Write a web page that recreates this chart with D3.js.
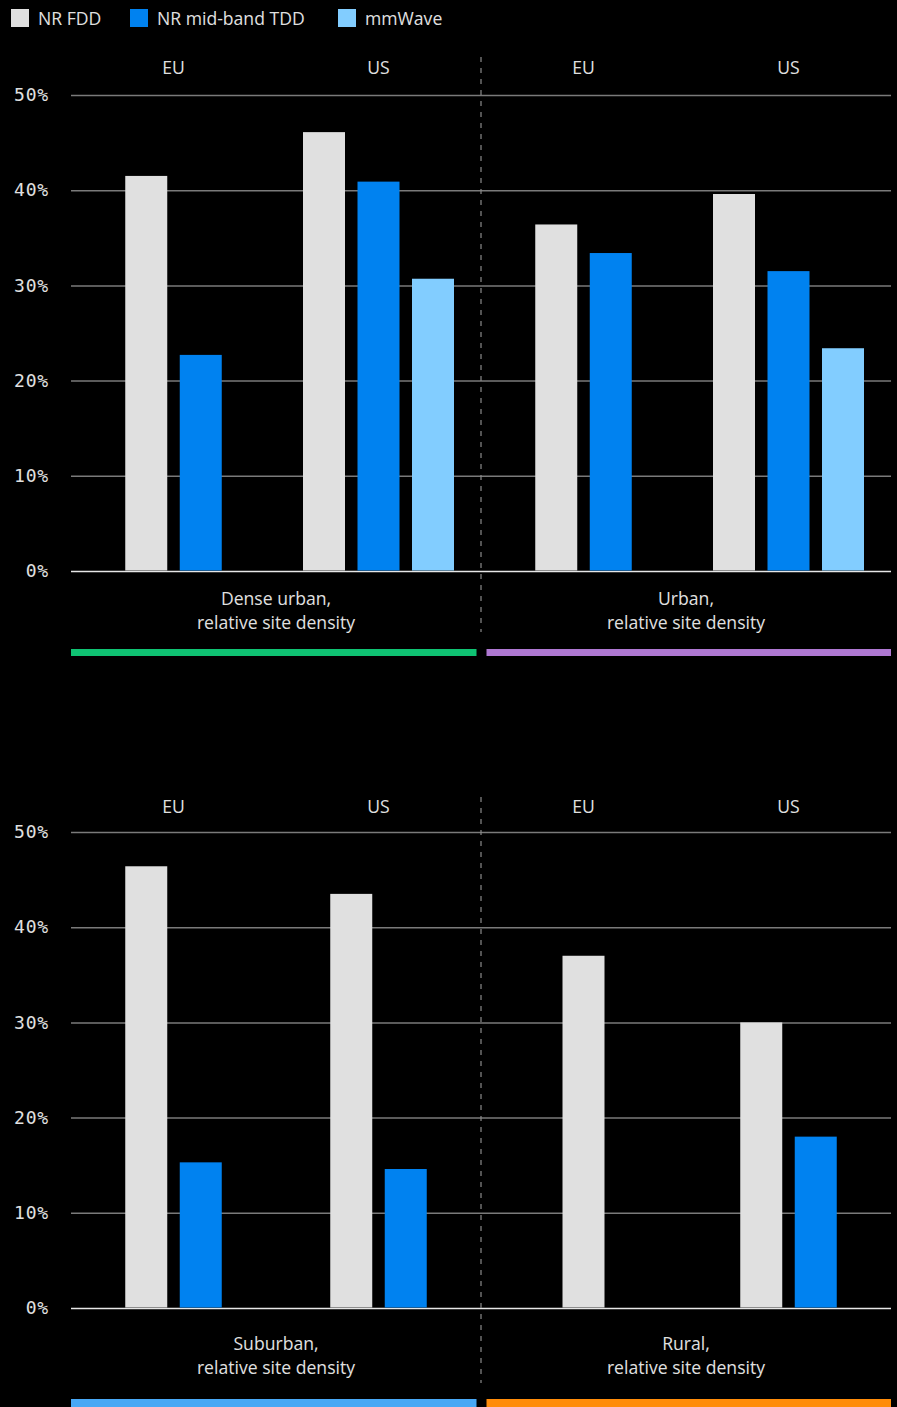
<!DOCTYPE html>
<html><head><meta charset="utf-8">
<script src="https://cdn.jsdelivr.net/npm/d3@7/dist/d3.min.js"></script>
<style>
html,body{margin:0;padding:0;background:#000;}
svg{display:block;}
text{font-family:"Open Sans","Noto Sans",sans-serif;fill:#e0e0e0;}
</style></head><body>
<script>
// ---- data ----
const seriesNames = ["NR FDD", "NR mid-band TDD", "mmWave"];
const seriesColors = ["#e0e0e0", "#0082f0", "#82cdff"];
const regions = ["EU", "US"];
const panelNames = ["Dense urban,", "Urban,", "Suburban,", "Rural,"];
const panelSub = "relative site density";
const panelColors = ["#0fc373", "#af78d2", "#48a8f5", "#ff8c0a"];
// groups in order: DenseUrban-EU, DenseUrban-US, Urban-EU, Urban-US, Suburban-EU, Suburban-US, Rural-EU, Rural-US
const nrFDD  = [41.5, 46.1, 36.4, 39.6, 46.4, 43.5, 37.0, 30.0];
const nrTDD  = [22.7, 40.9, 33.4, 31.5, 15.3, 14.6, null, 18.0];
const mmWave = [null, 30.7, null, 23.4, null, null, null, null];
const yTicks = [0, 10, 20, 30, 40, 50];

const W = 897, H = 1407;
const FS = "17.6px";
const svg = d3.select("body").append("svg").attr("width", W).attr("height", H);

// legend
const leg = svg.append("g");
const legX = [11, 130, 338];
seriesNames.forEach((s, i) => {
  leg.append("rect").attr("x", legX[i]).attr("y", 9).attr("width", 18).attr("height", 18).attr("fill", seriesColors[i]);
  leg.append("text").attr("x", legX[i] + 27).attr("y", 18).attr("dominant-baseline", "central")
    .style("font-size", FS).text(s);
});

const allSeries = [nrFDD, nrTDD, mmWave];
const rows = [
  {top: 95, base: 571, regionY: 67, catY: 598, barY: 649, barH: 7, divTop: 57, divBot: 632},
  {top: 832, base: 1308, regionY: 806, catY: 1343, barY: 1399, barH: 8, divTop: 797, divBot: 1383}
];
const xPanel = d3.scaleBand().domain([0, 1]).range([71, 891]);
const xRegion = d3.scaleBand().domain(regions).range([0, xPanel.bandwidth()]);
const barStep = 54.5, stepPad = 12.5 / 54.5;

rows.forEach((r, ri) => {
  const g = svg.append("g");
  const y = d3.scaleLinear().domain([0, 50]).range([r.base, r.top]);
  // grid
  const axis = d3.axisLeft(y).tickValues(yTicks).tickFormat(d => d + "%").tickSize(-(891 - 71)).tickPadding(22);
  const ax = g.append("g").attr("transform", "translate(71,0)").call(axis);
  ax.select(".domain").remove();
  ax.selectAll(".tick line").attr("stroke", "#7a7a7a").attr("stroke-width", 1.5);
  ax.selectAll(".tick text").style("font-family", "'DejaVu Sans Mono',monospace").style("font-size", "18px")
    .style("letter-spacing", "0.8px").attr("fill", "#e0e0e0");
  ax.selectAll(".tick").filter(d => d === 0).select("line").attr("stroke", "#e6e6e6");

  [0, 1].forEach(pi => {
    const panelIdx = ri * 2 + pi;
    const px = xPanel(pi);
    regions.forEach((reg, gi) => {
      const idx = panelIdx * 2 + gi;
      const present = seriesNames.map((s, si) => ({s, si, v: allSeries[si][idx]})).filter(d => d.v != null);
      const c = px + xRegion(reg) + xRegion.bandwidth() / 2;
      const half = present.length * barStep / 2;
      const inner = d3.scaleBand().domain(present.map(d => d.s)).range([c - half, c + half])
        .paddingInner(stepPad).paddingOuter(stepPad / 2);
      g.selectAll(null).data(present).enter().append("rect")
        .attr("x", d => inner(d.s)).attr("width", inner.bandwidth())
        .attr("y", d => y(d.v)).attr("height", d => y(0) - y(d.v) - 0.5)
        .attr("fill", d => seriesColors[d.si]);
      g.append("text").attr("x", c).attr("y", r.regionY).attr("text-anchor", "middle")
        .attr("dominant-baseline", "central").style("font-size", FS).text(reg);
    });
    const pc = px + xPanel.bandwidth() / 2;
    g.append("text").attr("x", pc).attr("y", r.catY).attr("text-anchor", "middle").attr("dominant-baseline", "central")
      .style("font-size", FS).text(panelNames[panelIdx]);
    g.append("text").attr("x", pc).attr("y", r.catY + 24).attr("text-anchor", "middle").attr("dominant-baseline", "central")
      .style("font-size", FS).text(panelSub);
    const bx0 = pi === 0 ? px : px + 5.5;
    const bx1 = pi === 0 ? px + xPanel.bandwidth() - 4.5 : px + xPanel.bandwidth();
    g.append("rect").attr("x", bx0).attr("y", r.barY).attr("width", bx1 - bx0).attr("height", r.barH).attr("fill", panelColors[panelIdx]);
  });
  const dx = xPanel(1);
  g.append("line").attr("x1", dx).attr("x2", dx).attr("y1", r.divTop).attr("y2", r.divBot)
    .attr("stroke", "#8a8a8a").attr("stroke-width", 1.2).attr("stroke-dasharray", "5,6");
});
</script>
</body></html>
